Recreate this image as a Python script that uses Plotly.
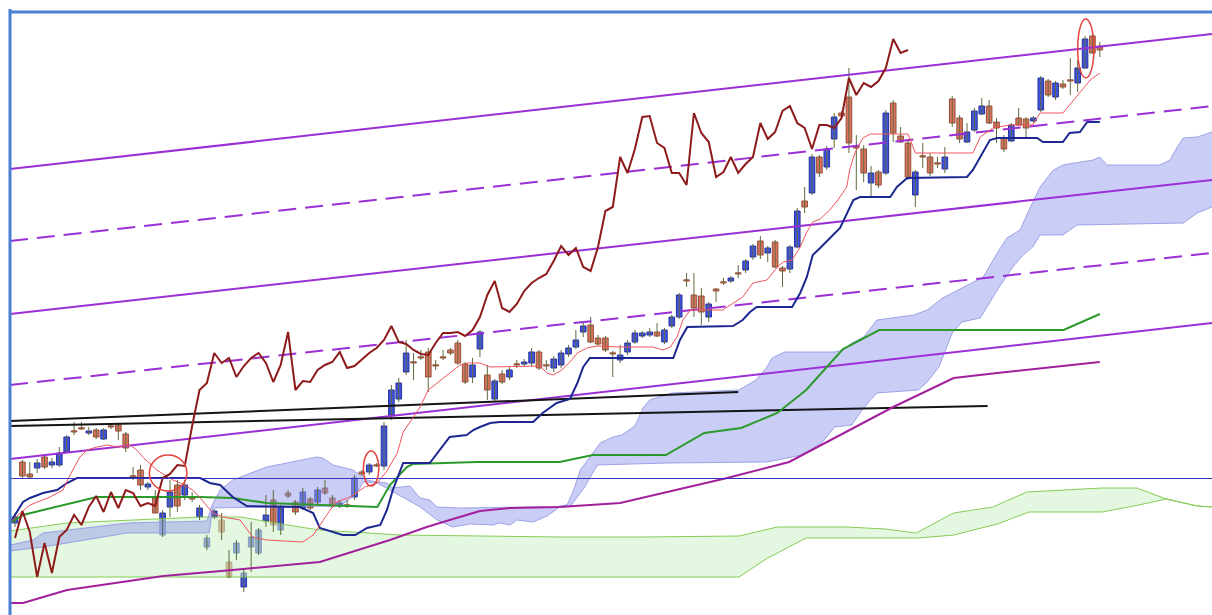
import plotly.graph_objects as go

# ---------------- candle data (price units) ----------------
OPEN = [92, 153, 141, 147, 158, 150, 150, 163, 184, 187, 182, 185, 176, 189, 190, 181, 139, 145, 128, 117,
        80, 108, 130, 120, 117, 98, 68, 98, 95, 53, 62, 28, 68, 62, 94, 115, 85, 122, 113, 107,
        116, 113, 127, 117, 109, 110, 118, 143, 143, 150, 149, 200, 216, 243, 253, 258, 263, 250, 258, 265,
        272, 251, 238, 266, 240, 216, 241, 238, 251, 251, 252, 263, 250, 247, 250, 261, 268, 283, 290, 277,
        277, 262, 255, 263, 273, 279, 280, 283, 273, 289, 298, 335, 320, 319, 298, 326, 333, 334, 342, 345,
        358, 374, 362, 373, 347, 346, 368, 414, 422, 458, 448, 476, 502, 518, 468, 466, 432, 443, 442, 512,
        479, 472, 420, 459, 458, 452, 446, 516, 497, 473, 485, 501, 509, 493, 477, 474, 497, 496, 494, 505,
        534, 518, 531, 535, 532, 547, 579, 569]
HIGH = [102, 155, 153, 156, 160, 157, 168, 180, 193, 193, 188, 187, 187, 192, 191, 183, 148, 150, 133, 125,
        105, 135, 135, 135, 123, 110, 80, 106, 102, 65, 75, 45, 93, 87, 120, 125, 110, 125, 115, 127,
        118, 128, 135, 120, 115, 115, 140, 145, 152, 152, 193, 230, 237, 275, 262, 265, 267, 255, 265, 267,
        275, 253, 257, 285, 250, 236, 245, 248, 255, 256, 267, 265, 255, 259, 265, 270, 285, 293, 298, 280,
        279, 264, 270, 275, 285, 284, 287, 292, 287, 300, 322, 342, 342, 327, 313, 327, 337, 339, 350, 356,
        371, 379, 369, 375, 349, 370, 407, 428, 461, 460, 469, 502, 504, 547, 480, 470, 449, 445, 505, 515,
        488, 475, 445, 472, 462, 458, 468, 519, 500, 492, 507, 517, 515, 497, 480, 492, 507, 498, 499, 539,
        536, 534, 535, 557, 555, 579, 581, 573]
LOW = [88, 137, 137, 142, 146, 147, 148, 162, 180, 185, 180, 176, 175, 186, 175, 163, 135, 125, 125, 102,
       78, 98, 103, 115, 113, 95, 65, 96, 75, 37, 55, 23, 43, 60, 88, 83, 80, 117, 100, 105,
       105, 110, 120, 107, 107, 107, 115, 139, 140, 148, 145, 195, 213, 240, 235, 255, 223, 245, 255, 260,
       250, 231, 232, 258, 215, 214, 231, 235, 247, 248, 249, 245, 245, 243, 247, 258, 266, 278, 272, 269,
       263, 238, 252, 260, 271, 277, 278, 278, 271, 287, 296, 328, 298, 290, 293, 313, 330, 332, 337, 342,
       355, 356, 353, 347, 328, 342, 367, 402, 420, 438, 445, 467, 497, 462, 425, 433, 418, 427, 440, 473,
       472, 435, 408, 447, 439, 447, 442, 488, 472, 472, 483, 500, 491, 472, 463, 473, 489, 477, 492, 503,
       518, 515, 526, 520, 523, 546, 561, 558]
CLOSE = [98, 139, 138, 152, 148, 153, 162, 178, 183, 186, 184, 178, 185, 188, 184, 167, 138, 130, 131, 102,
         102, 123, 109, 130, 116, 107, 77, 104, 83, 38, 72, 42, 78, 85, 100, 90, 108, 119, 103, 123,
         107, 125, 122, 109, 112, 109, 137, 141, 150, 149, 189, 225, 232, 262, 252, 257, 238, 249, 257, 262,
         252, 233, 250, 283, 225, 234, 233, 245, 250, 253, 263, 247, 249, 256, 262, 267, 275, 289, 273, 271,
         265, 261, 260, 272, 282, 282, 283, 279, 285, 298, 320, 334, 307, 303, 311, 324, 332, 337, 341, 354,
         369, 360, 367, 348, 344, 368, 404, 408, 458, 442, 466, 498, 499, 472, 467, 442, 442, 430, 502, 482,
         473, 438, 443, 458, 442, 451, 458, 492, 476, 483, 504, 509, 492, 487, 466, 490, 490, 487, 497, 537,
         520, 532, 528, 534, 547, 576, 562, 565]
LAG_SHIFT = 26

# ---------------- indicator lines (candle index, price) ----------------
TENKAN_X = [-0.68, 2.03, 4.74, 6.5, 7.45, 8.8, 9.76, 11.1, 12.5, 13.8, 15.6, 16.5, 17.3, 19.2, 21.4, 22.4, 24.1,
            25.1, 26.8, 28.2, 30.5, 32.2, 34.1, 39.0, 40.4, 42.7, 43.6, 45.4, 47.4, 49.1, 50.4, 51.8, 52.6,
            54.9, 56.0, 58.5, 60.3, 61.4, 63.0, 64.4, 71.1, 72.1, 72.9, 74.1, 75.2, 76.2, 77.5, 78.9, 82.0,
            86.4, 87.8, 88.8, 89.7, 90.5, 91.5, 95.9, 96.9, 98.6, 100.0, 101.9, 103.3, 104.1, 105.3, 106.4,
            107.3, 108.1, 109.1, 110.4, 111.5, 112.7, 113.1, 113.8, 114.9, 115.9, 121.0, 122.0, 129.8, 130.8,
            132.5, 134.8, 137.9, 138.9, 142.0, 142.9, 143.9, 145.7, 147.0]
TENKAN_Y = [93, 110, 118, 125, 140, 158, 165, 168, 170, 168, 170, 165, 158, 145, 135, 132, 125,
            117, 102, 98, 95, 78, 75, 73, 80, 105, 113, 118, 128, 132, 144, 162, 183,
            208, 225, 240, 250, 252, 252, 248, 249, 242, 240, 245, 253, 262, 267, 269, 268,
            268, 265, 268, 278, 295, 305, 305, 310, 318, 332, 335, 348, 353, 355, 368,
            383, 393, 396, 405, 415, 428, 445, 462, 477, 481, 481, 462, 462, 478,
            487, 490, 490, 502, 502, 510, 520, 535, 542]

KIJUN_X = [-0.68, 1.08, 2.03, 3.79, 5.69, 7.05, 8.4, 25.1, 26.4, 27.8, 29.5, 31.4, 38.6, 40.4, 41.3, 44.4, 46.1,
           47.7, 49.5, 50.4, 51.2, 52.6, 56.2, 57.6, 58.9, 61.2, 62.1, 63.0, 64.4, 65.7, 70.2, 71.5,
           73.4, 75.2, 76.2, 77.0, 77.9, 89.2, 90.1, 91.1, 97.3, 98.6, 99.6, 100.5, 105.3, 106.4, 107.3,
           108.1, 109.1, 111.8, 112.5, 113.6, 114.5, 118.6, 119.5, 120.9, 129.0, 129.8, 132.1, 133.1,
           138.5, 139.3, 142.0, 142.9, 144.3, 145.3, 147.0]
KIJUN_Y = [92, 113, 117, 122, 125, 132, 137, 137, 132, 130, 118, 109, 108, 102, 87, 80, 80,
           87, 90, 105, 125, 152, 152, 165, 178, 180, 185, 188, 192, 193, 193, 202,
           212, 216, 232, 248, 257, 257, 275, 288, 289, 295, 303, 308, 308, 322, 338,
           360, 367, 387, 398, 415, 418, 418, 428, 437, 438, 445, 475, 477,
           477, 473, 473, 482, 483, 493, 493]

GREEN_X = [-0.68, 1.08, 3.79, 8.4, 11.1, 25.1, 29.5, 34.1, 49.1, 50.8, 53.1, 53.9, 62.6, 73.8, 78.3, 88.2,
           93.4, 98.4, 103.3, 107.2, 112.2, 117.1, 142.1, 147.0]
GREEN_Y = [92, 100, 105, 113, 118, 118, 117, 112, 108, 130, 148, 151, 153, 153, 160, 160,
           182, 187, 202, 225, 266, 285, 285, 301]

PURPLE_X = [-0.68, 1.08, 7.05, 20.1, 29.5, 41.3, 50.8, 55.8, 58.9, 63.0, 67.1, 73.8, 82.0, 87.9, 96.5, 104.9,
            108.8, 119.0, 127.2, 133.1, 147.0]
PURPLE_Y = [12, 12, 25, 39, 45, 53, 75, 88, 95, 104, 107, 108, 112, 122, 137, 153,
            168, 208, 237, 242, 253]

# ---------------- clouds ----------------
CLOUD_A_X = [-0.68, 2.44, 3.79, 15.2, 26.0, 26.7, 27.8, 29.5, 34.1, 40.9, 41.7, 43.1, 45.8, 47.7, 49.1, 50.4,
             51.2, 53.5, 54.9, 56.2, 57.2, 60.3, 69.4, 72.9, 74.8, 75.6, 76.6, 77.9, 79.3, 81.0, 82.2, 84.0,
             85.1, 86.0, 89.0, 98.1, 100.4, 101.8, 102.6, 104.3, 111.1, 112.2, 113.4, 115.0, 116.8, 121.8,
             123.6, 125.7, 128.5, 131.2, 133.1, 134.4, 136.2, 137.1, 138.9, 140.7, 142.0, 146.1, 147.0,
             148.0, 155.1, 156.5, 157.5, 158.3, 160.2, 162.2]
CLOUD_A_Y = [70, 75, 82, 92, 94, 110, 125, 135, 148, 158, 157, 150, 145, 135, 133, 132,
             127, 129, 117, 115, 108, 107, 108, 108, 110, 123, 145, 158, 172, 178, 180, 189,
             207, 215, 222, 225, 235, 247, 257, 263, 263, 265, 272, 278, 295, 300,
             305, 317, 328, 338, 362, 377, 385, 400, 428, 445, 450, 455, 458,
             450, 450, 455, 468, 477, 478, 483]
CLOUD_B_X = [-0.68, 3.79, 15.2, 26.3, 26.8, 44.0, 46.1, 47.2, 49.1, 51.2, 54.9, 57.2, 59.3, 61.7, 64.8, 65.7,
             67.1, 68.0, 70.2, 72.1, 72.9, 73.8, 74.8, 75.2, 77.2, 78.9, 88.5, 102.0, 106.6, 109.3, 111.1,
             113.4, 114.5, 115.9, 116.8, 122.4, 123.6, 125.2, 127.0, 128.3, 130.8, 133.1, 135.2, 136.6,
             137.9, 138.9, 142.0, 143.9, 158.3, 160.2, 162.2]
CLOUD_B_Y = [64, 68, 82, 82, 107, 109, 120, 133, 132, 123, 108, 95, 88, 91, 90, 92,
             90, 95, 93, 99, 103, 108, 110, 108, 128, 150, 152, 153, 160, 172, 188,
             190, 202, 215, 222, 225, 233, 248, 282, 293, 297, 325, 348, 360,
             368, 380, 380, 390, 392, 402, 408]

GCLOUD_A_X = [-0.68, 7.05, 25.1, 30.5, 38.6, 41.3, 52.2, 73.8, 85.1, 98.1, 103.3, 112.7, 117.9, 122.1, 127.2,
              132.5, 137.1, 147.3, 152.0, 156.0, 160.2, 162.2]
GCLOUD_A_Y = [84, 92, 98, 98, 88, 85, 80, 78, 78, 79, 88, 88, 86, 82, 102,
              108, 123, 127, 127, 116, 109, 108]
GCLOUD_B_X = [-0.68, 98.1, 102.0, 107.2, 122.4, 127.2, 133.1, 137.4, 147.3, 152.3, 156.0, 160.2, 162.2]
GCLOUD_B_Y = [38, 38, 57, 77, 77, 80, 91, 103, 103, 110, 116, 109, 108]

# ---------------- drawn objects ----------------
CHANNEL_Y0 = [446, 374, 301, 230, 156]
CHANNEL_Y1 = [581, 509, 435, 362, 292]
CHANNEL_DASH = ["solid", "18px,9px", "solid", "18px,9px", "solid"]
CHANNEL_X0, CHANNEL_X1 = -0.68, 162.2

TREND_X0 = [-0.68, -0.68]
TREND_Y0 = [194, 189]
TREND_X1 = [98.0, 131.8]
TREND_Y1 = [223, 209]

HLINE_LEVEL = 136.5
CIRCLES = [(18.2, 124, 23.3, 160), (47.2, 129, 49.3, 164), (144.0, 537, 146.2, 596)]

X_RANGE = [-0.68, 162.2]
Y_RANGE = [0, 603]

# ---------------- figure ----------------
N = len(OPEN)
IDX = list(range(N))
fig = go.Figure()

# green cloud
fig.add_trace(go.Scatter(x=GCLOUD_A_X + GCLOUD_B_X[::-1], y=GCLOUD_A_Y + GCLOUD_B_Y[::-1],
                         fill="toself", fillcolor="rgba(205,243,200,0.55)", mode="lines",
                         line=dict(width=0), hoverinfo="skip"))
for xs, ys in [(GCLOUD_A_X, GCLOUD_A_Y), (GCLOUD_B_X, GCLOUD_B_Y)]:
    fig.add_trace(go.Scatter(x=xs, y=ys, mode="lines", line=dict(color="#86cc55", width=1), hoverinfo="skip"))

# ichimoku cloud
fig.add_trace(go.Scatter(x=CLOUD_A_X + CLOUD_B_X[::-1], y=CLOUD_A_Y + CLOUD_B_Y[::-1],
                         fill="toself", fillcolor="rgba(150,156,236,0.5)", mode="lines",
                         line=dict(width=0), hoverinfo="skip"))
for xs, ys in [(CLOUD_A_X, CLOUD_A_Y), (CLOUD_B_X, CLOUD_B_Y)]:
    fig.add_trace(go.Scatter(x=xs, y=ys, mode="lines", line=dict(color="rgba(140,146,225,0.8)", width=1),
                             hoverinfo="skip"))

# wicks
wx, wy = [], []
for i in IDX:
    wx += [i, i, None]
    wy += [HIGH[i], LOW[i], None]
fig.add_trace(go.Scatter(x=wx, y=wy, mode="lines", line=dict(color="#5f6b3e", width=1), hoverinfo="skip"))

# bodies
up = [i for i in IDX if CLOSE[i] > OPEN[i]]
dn = [i for i in IDX if CLOSE[i] <= OPEN[i]]
for sel, fill, edge in [(up, "#3f52de", "#26339a"), (dn, "#da735e", "#94503a")]:
    fig.add_trace(go.Bar(
        x=sel,
        base=[min(OPEN[i], CLOSE[i]) for i in sel],
        y=[max(abs(CLOSE[i] - OPEN[i]), 1.2) for i in sel],
        width=0.76, marker=dict(color=fill, line=dict(color=edge, width=1)), hoverinfo="skip"))

# purple channel lines
for y0, y1, d in zip(CHANNEL_Y0, CHANNEL_Y1, CHANNEL_DASH):
    fig.add_trace(go.Scatter(x=[CHANNEL_X0, CHANNEL_X1], y=[y0, y1], mode="lines",
                             line=dict(color="#9a2fd6", width=2, dash=d), hoverinfo="skip"))

# black trend lines
for x0, y0, x1, y1 in zip(TREND_X0, TREND_Y0, TREND_X1, TREND_Y1):
    fig.add_trace(go.Scatter(x=[x0, x1], y=[y0, y1], mode="lines",
                             line=dict(color="#151515", width=2), hoverinfo="skip"))

# moving averages / ichimoku lines
fig.add_trace(go.Scatter(x=PURPLE_X, y=PURPLE_Y, mode="lines", line=dict(color="#a2209c", width=2)))
fig.add_trace(go.Scatter(x=GREEN_X, y=GREEN_Y, mode="lines", line=dict(color="#2b9a2b", width=2)))
fig.add_trace(go.Scatter(x=KIJUN_X, y=KIJUN_Y, mode="lines", line=dict(color="#1c2790", width=2)))
fig.add_trace(go.Scatter(x=TENKAN_X, y=TENKAN_Y, mode="lines", line=dict(color="#f0545c", width=1)))
fig.add_trace(go.Scatter(x=[i - LAG_SHIFT for i in IDX[LAG_SHIFT:]], y=CLOSE[LAG_SHIFT:], mode="lines",
                         line=dict(color="#8e1b1b", width=2)))

shapes = [
    dict(type="line", xref="paper", yref="y", x0=0, x1=1, y0=HLINE_LEVEL, y1=HLINE_LEVEL,
         line=dict(color="#3434c0", width=1)),
    dict(type="line", xref="paper", yref="paper", x0=0, x1=0, y0=0, y1=1.005, line=dict(color="#4a7fd6", width=3)),
    dict(type="line", xref="paper", yref="paper", x0=0, x1=1, y0=1, y1=1, line=dict(color="#4a7fd6", width=3)),
]
for x0, y0, x1, y1 in CIRCLES:
    shapes.append(dict(type="circle", xref="x", yref="y", x0=x0, y0=y0, x1=x1, y1=y1,
                       line=dict(color="#e4423c", width=1.5)))

fig.update_layout(
    width=1212, height=615, margin=dict(l=10, r=0, t=12, b=0, pad=0),
    paper_bgcolor="white", plot_bgcolor="white", showlegend=False,
    barmode="overlay", shapes=shapes,
    xaxis=dict(range=X_RANGE, showgrid=False, zeroline=False, showticklabels=False, ticks="", fixedrange=True),
    yaxis=dict(range=Y_RANGE, showgrid=False, zeroline=False, showticklabels=False, ticks="", fixedrange=True),
)
fig.write_html("out.html")
